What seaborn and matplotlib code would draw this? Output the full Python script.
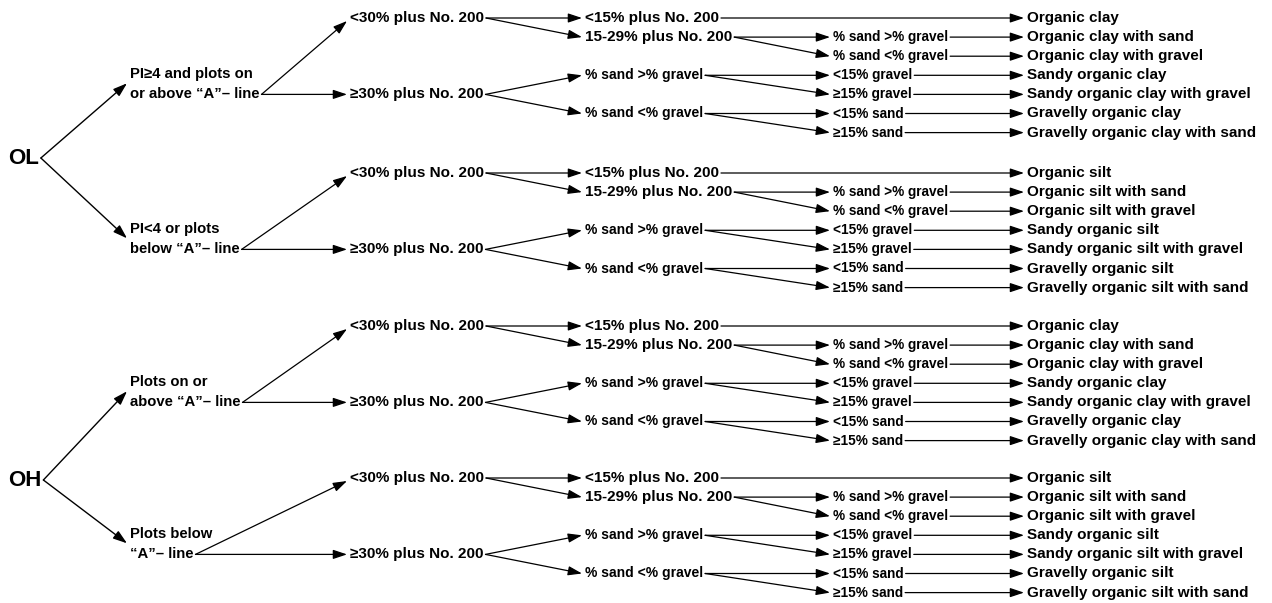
import matplotlib
matplotlib.use("Agg")
import matplotlib.pyplot as plt
import seaborn as sns

# ---------------- data (labels of the flow chart) ----------------
roots = ["OL", "OH"]
level1_top = ["PI≥4 and plots on", "PI<4 or plots", "Plots on or", "Plots below"]
level1_bot = ["or above “A”– line", "below “A”– line", "above “A”– line", "“A”– line"]
fines = ["<30% plus No. 200", "≥30% plus No. 200"]
sub_lt30 = ["<15% plus No. 200", "15-29% plus No. 200"]
sub_ge30 = ["% sand >% gravel", "% sand <% gravel"]
sub_1529 = ["% sand >% gravel", "% sand <% gravel"]
sub_sandy = ["<15% gravel", "≥15% gravel"]
sub_gravelly = ["<15% sand", "≥15% sand"]
names_clay = ["Organic clay", "Organic clay with sand", "Organic clay with gravel",
              "Sandy organic clay", "Sandy organic clay with gravel",
              "Gravelly organic clay", "Gravelly organic clay with sand"]
names_silt = ["Organic silt", "Organic silt with sand", "Organic silt with gravel",
              "Sandy organic silt", "Sandy organic silt with gravel",
              "Gravelly organic silt", "Gravelly organic silt with sand"]
block_names = [names_clay, names_silt, names_clay, names_silt]

# ---------------- layout ----------------
W, H = 1272, 603
BLOCK_Y0 = [18, 173, 326, 478]
ROW = 19.1
COLX = [8, 130, 350, 585, 833, 1027]
ROOT_Y = [158, 480]
FAM = ["Liberation Sans", "DejaVu Sans"]

sns.set_theme(style="white")
plt.rcParams["font.family"] = FAM

fig = plt.figure(figsize=(W / 100, H / 100), dpi=100)
ax = fig.add_axes([0, 0, 1, 1])
ax.set_xlim(0, W)
ax.set_ylim(H, 0)
ax.axis("off")
renderer = fig.canvas.get_renderer()
inv = ax.transData.inverted()


def put(x, y, s, size=11):
    return ax.text(x, y, s, fontsize=size, fontweight="bold", va="center", ha="left",
                   family=FAM, color="black")


def right_end(t):
    bb = t.get_window_extent(renderer)
    return inv.transform((bb.x1, bb.y0))[0]


def arrow(x0, y0, x1, y1, lw=0.9):
    ax.annotate("", xy=(x1, y1), xytext=(x0, y0),
                arrowprops=dict(arrowstyle="-|>,head_length=0.6,head_width=0.2",
                                color="black", lw=lw, shrinkA=0, shrinkB=0,
                                mutation_scale=14))


def link(t_from, y_from, x_to, y_to):
    arrow(right_end(t_from) + 2, y_from, x_to - 3, y_to)


root_texts = []
for i, r in enumerate(roots):
    root_texts.append(put(COLX[0], ROOT_Y[i], r, size=16))

for b in range(4):
    y0 = BLOCK_Y0[b]
    ry = [y0 + k * ROW for k in range(7)]
    # level 1
    put(COLX[1], ry[3] - 1, level1_top[b], size=10.7)
    t1 = put(COLX[1], ry[4], level1_bot[b], size=10.7)
    # root arrow
    rt = root_texts[b // 2]
    rx = right_end(rt) + 2
    arrow(rx, ROOT_Y[b // 2], COLX[1] - 3, ry[3] + 8, lw=1.0)
    # level 2
    t_lt30 = put(COLX[2], ry[0], fines[0])
    t_ge30 = put(COLX[2], ry[4], fines[1])
    link(t1, ry[4], COLX[2], ry[0] + 3)
    link(t1, ry[4], COLX[2], ry[4])
    # level 3
    t_a = put(COLX[3], ry[0], sub_lt30[0])
    t_b = put(COLX[3], ry[1], sub_lt30[1])
    t_c = put(COLX[3], ry[3], sub_ge30[0], size=10)
    t_d = put(COLX[3], ry[5], sub_ge30[1], size=10)
    link(t_lt30, ry[0], COLX[3], ry[0])
    link(t_lt30, ry[0], COLX[3], ry[1])
    link(t_ge30, ry[4], COLX[3], ry[3])
    link(t_ge30, ry[4], COLX[3], ry[5])
    # level 4
    lvl4 = sub_1529 + sub_sandy + sub_gravelly
    t4 = [put(COLX[4], ry[k + 1], lvl4[k], size=9.8) for k in range(6)]
    link(t_b, ry[1], COLX[4], ry[1])
    link(t_b, ry[1], COLX[4], ry[2])
    link(t_c, ry[3], COLX[4], ry[3])
    link(t_c, ry[3], COLX[4], ry[4])
    link(t_d, ry[5], COLX[4], ry[5])
    link(t_d, ry[5], COLX[4], ry[6])
    # final names
    for k in range(7):
        put(COLX[5], ry[k], block_names[b][k])
    link(t_a, ry[0], COLX[5], ry[0])
    for k in range(6):
        link(t4[k], ry[k + 1], COLX[5], ry[k + 1])

fig.savefig("out.png", dpi=100, facecolor="white")
